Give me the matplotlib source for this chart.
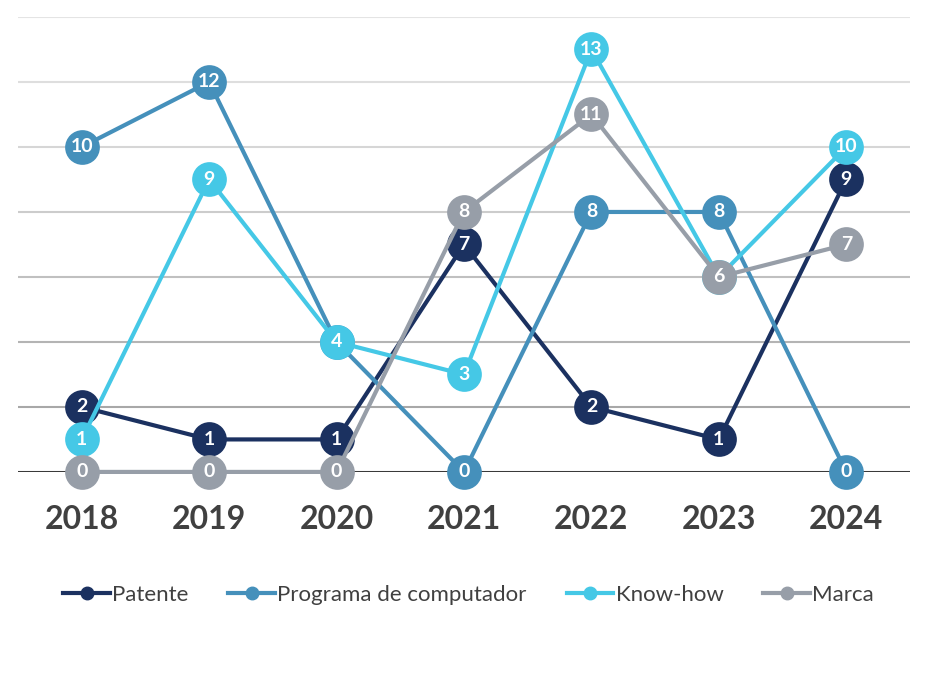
import matplotlib.pyplot as plt
from matplotlib.lines import Line2D

years = ["2018", "2019", "2020", "2021", "2022", "2023", "2024"]
patente = [2, 1, 1, 7, 2, 1, 9]
programa = [10, 12, 4, 0, 8, 8, 0]
know_how = [1, 9, 4, 3, 13, 6, 10]
marca = [0, 0, 0, 8, 11, 6, 7]

series = [
    ("Patente", patente, "#1b3160"),
    ("Programa de computador", programa, "#4590bb"),
    ("Know-how", know_how, "#45c8e6"),
    ("Marca", marca, "#979ea8"),
]

plt.rcParams['font.family'] = ['Lato', 'DejaVu Sans']

fig = plt.figure(figsize=(9.28, 6.8), dpi=100)
ax = fig.add_axes([0.0194, 0.306, 0.9612, 0.669])

x = list(range(len(years)))

# graded gridlines, lighter at the top
grid_cols = ["#3a3a3a", "#a8a8a8", "#b4b4b4", "#c0c0c0", "#cccccc", "#d6d6d6", "#dedede", "#e4e4e4"]
for i, v in enumerate(range(0, 16, 2)):
    ax.axhline(v, color=grid_cols[i], lw=2.2 if v == 0 else 1.5, zorder=1)

for k, (name, vals, col) in enumerate(series):
    ax.plot(x, vals, color=col, lw=3, marker="o", markersize=25,
            markeredgewidth=0, clip_on=False, zorder=3 + k)
    for xi, v in zip(x, vals):
        ax.text(xi, v, str(v), color="white", ha="center", va="center",
                fontsize=14, fontweight="bold", zorder=3 + k, clip_on=False)

ax.set_xlim(-0.5, len(years) - 0.5)
ax.set_ylim(0, 14)
ax.set_xticks(x)
ax.set_xticklabels(years, fontsize=23, fontweight="bold", color="#404040")
ax.tick_params(axis="x", length=0, pad=24)
ax.set_yticks([])
for s in ax.spines.values():
    s.set_visible(False)

handles = [Line2D([0], [0], color=c, lw=3, marker="o", markersize=9) for _, _, c in series]
fig.legend(handles, [n for n, _, _ in series], loc="center", bbox_to_anchor=(0.505, 0.125),
           ncol=4, frameon=False, fontsize=16, handlelength=2.1, handletextpad=0.1,
           columnspacing=1.8, labelcolor="#404040")

fig.savefig("out.png", dpi=100)
